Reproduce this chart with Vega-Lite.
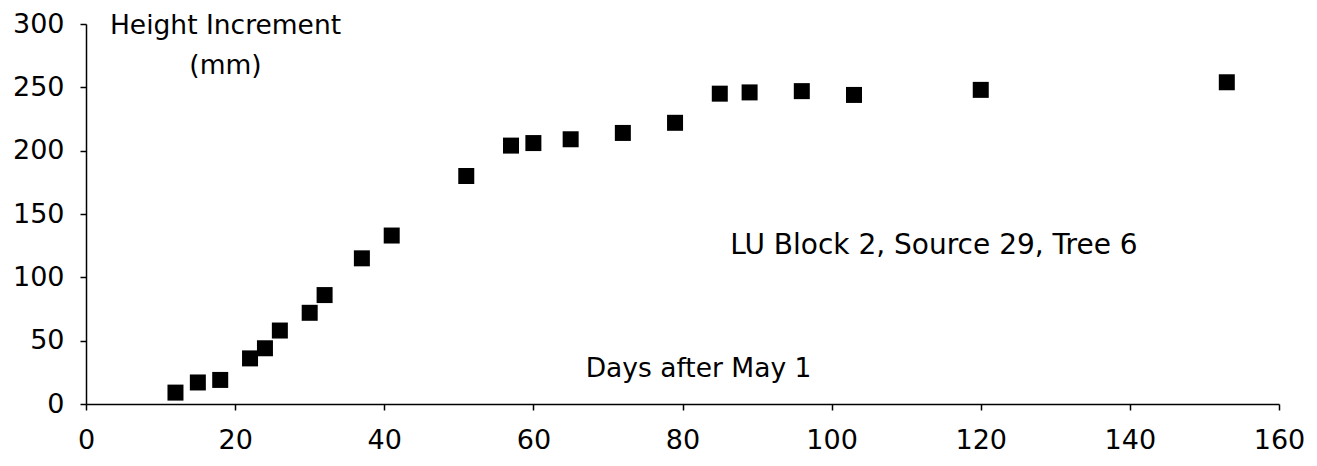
{
  "$schema": "https://vega.github.io/schema/vega-lite/v6.json",
  "width": 1193,
  "height": 380,
  "autosize": "none",
  "padding": {"left": 86, "top": 24, "right": 38, "bottom": 62},
  "background": "white",
  "config": {
    "view": {"stroke": null},
    "font": "DejaVu Sans",
    "axis": {
      "grid": false,
      "domainColor": "black",
      "domainWidth": 1.5,
      "tickColor": "black",
      "tickWidth": 1.5,
      "tickSize": 6,
      "labelColor": "black",
      "labelFontSize": 27,
      "labelFlush": false,
      "labelOverlap": false,
      "titleColor": "black",
      "titleFontSize": 26.5,
      "titleFontWeight": "normal"
    }
  },
  "layer": [
    {
      "data": {
        "values": [
          {"day": 12, "mm": 9},
          {"day": 15, "mm": 17},
          {"day": 18, "mm": 19},
          {"day": 22, "mm": 36},
          {"day": 24, "mm": 44},
          {"day": 26, "mm": 58},
          {"day": 30, "mm": 72},
          {"day": 32, "mm": 86},
          {"day": 37, "mm": 115},
          {"day": 41, "mm": 133},
          {"day": 51, "mm": 180},
          {"day": 57, "mm": 204},
          {"day": 60, "mm": 206},
          {"day": 65, "mm": 209},
          {"day": 72, "mm": 214},
          {"day": 79, "mm": 222},
          {"day": 85, "mm": 245},
          {"day": 89, "mm": 246},
          {"day": 96, "mm": 247},
          {"day": 103, "mm": 244},
          {"day": 120, "mm": 248},
          {"day": 153, "mm": 254}
        ]
      },
      "mark": {"type": "square", "size": 256, "color": "black", "opacity": 1},
      "encoding": {
        "x": {
          "field": "day",
          "type": "quantitative",
          "scale": {"domain": [0, 160], "nice": false, "zero": true},
          "axis": {
            "values": [0, 20, 40, 60, 80, 100, 120, 140, 160],
            "labelPadding": 17,
            "title": "Days after May 1",
            "titleX": 612,
            "titleY": -28,
            "titleBaseline": "alphabetic",
            "titleAlign": "center"
          }
        },
        "y": {
          "field": "mm",
          "type": "quantitative",
          "scale": {"domain": [0, 300], "nice": false},
          "axis": {
            "values": [0, 50, 100, 150, 200, 250, 300],
            "labelPadding": 16,
            "title": ["Height Increment", "(mm)"],
            "titleAngle": 0,
            "titleAlign": "center",
            "titleBaseline": "alphabetic",
            "titleX": 139,
            "titleY": 9,
            "titleLineHeight": 40
          }
        }
      }
    },
    {
      "data": {"values": [{}]},
      "mark": {"type": "text", "align": "left", "baseline": "alphabetic", "fontSize": 28, "color": "black", "font": "DejaVu Sans"},
      "encoding": {
        "x": {"datum": 86.4, "type": "quantitative"},
        "y": {"datum": 118.4, "type": "quantitative"},
        "text": {"value": "LU Block 2, Source 29, Tree 6"}
      }
    }
  ]
}
